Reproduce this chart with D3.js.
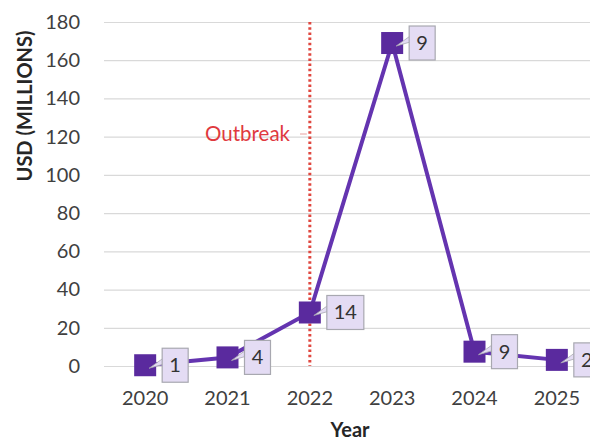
<!DOCTYPE html>
<html>
<head>
<meta charset="utf-8">
<script src="https://cdn.jsdelivr.net/npm/d3@7"></script>
<style>
  html, body { margin: 0; padding: 0; background: #ffffff; }
  svg { display: block; font-family: Lato, "Open Sans", sans-serif; }
</style>
</head>
<body>
<svg id="chart" width="590" height="440"></svg>
<script>
// ---- data ----
const years = ["2020", "2021", "2022", "2023", "2024", "2025"];
const values = [0.4, 4.5, 28, 169, 7.5, 3.2];
const dealLabels = ["1", "4", "14", "9", "9", "2"];
const yTicks = [0, 20, 40, 60, 80, 100, 120, 140, 160, 180];
const outbreakYear = "2022";
const outbreakLabel = "Outbreak";
const yTitle = "USD (MILLIONS)";
const xTitle = "Year";

// ---- layout ----
const svg = d3.select("#chart");
const W = 590, H = 440;
const plot = { left: 104, right: 598, top: 22, bottom: 366 };

const x = d3.scaleBand().domain(years).range([plot.left, plot.right]).padding(0);
const y = d3.scaleLinear().domain([0, 180]).range([plot.bottom, plot.top]);
const cx = d => x(d) + x.bandwidth() / 2;

// gridlines + y tick labels
const yAxis = d3.axisLeft(y).tickValues(yTicks).tickSize(0).tickPadding(24);
const gy = svg.append("g").attr("transform", `translate(${plot.left},0)`).call(yAxis);
gy.select(".domain").remove();
gy.selectAll("text").attr("font-size", 20).attr("fill", "#404040")
  .attr("font-family", "Lato, sans-serif");

svg.append("g").selectAll("line").data(yTicks).join("line")
  .attr("x1", plot.left).attr("x2", W)
  .attr("y1", d => y(d) + 0.5).attr("y2", d => y(d) + 0.5)
  .attr("stroke", "#d9d9d9").attr("stroke-width", 1.2);

// x axis labels
const xAxis = d3.axisBottom(x).tickSize(0).tickPadding(25);
const gx = svg.append("g").attr("transform", `translate(0,${plot.bottom})`).call(xAxis);
gx.select(".domain").remove();
gx.selectAll("text").attr("font-size", 20).attr("fill", "#404040")
  .attr("font-family", "Lato, sans-serif");

// axis titles
svg.append("text")
  .attr("transform", `translate(32,106) rotate(-90)`)
  .attr("text-anchor", "middle")
  .attr("font-size", 20).attr("font-weight", "bold").attr("fill", "#262626")
  .text(yTitle);
svg.append("text")
  .attr("x", 350).attr("y", 437)
  .attr("text-anchor", "middle")
  .attr("font-size", 20).attr("font-weight", "bold").attr("fill", "#262626")
  .text(xTitle);

// outbreak marker line
const ox = cx(outbreakYear);
svg.append("line")
  .attr("x1", ox).attr("x2", ox)
  .attr("y1", y(180)).attr("y2", y(0))
  .attr("stroke", "#e0473f").attr("stroke-width", 3)
  .attr("stroke-dasharray", "2.5,2.7");
svg.append("text")
  .attr("x", 205).attr("y", 141)
  .attr("font-size", 20.5).attr("fill", "#e0393e")
  .text(outbreakLabel);
svg.append("line")
  .attr("x1", 300).attr("x2", ox - 3)
  .attr("y1", 134).attr("y2", 134)
  .attr("stroke", "#e8a0a0").attr("stroke-width", 1);

// series line
const pts = years.map((yr, i) => ({ yr, v: values[i], lab: dealLabels[i] }));
const line = d3.line().x(d => cx(d.yr)).y(d => y(d.v));
svg.append("path").datum(pts)
  .attr("d", line)
  .attr("fill", "none")
  .attr("stroke", "#6434b0").attr("stroke-width", 4)
  .attr("stroke-linejoin", "round");

// markers
const ms = 22;
svg.append("g").selectAll("rect").data(pts).join("rect")
  .attr("x", d => cx(d.yr) - ms / 2).attr("y", d => y(d.v) - ms / 2)
  .attr("width", ms).attr("height", ms)
  .attr("fill", "#5a2a9e");

// callouts
const cg = svg.append("g").selectAll("g").data(pts).join("g");
cg.each(function(d) {
  const g = d3.select(this);
  const px = cx(d.yr), py = y(d.v);
  const bw = d.lab.length > 1 ? 37 : 26, bh = 34;
  const bx = px + 17, by = py - bh / 2;
  // pointer wedge
  g.append("path")
    .attr("d", `M${px + 4},${py + 3} L${bx + 1},${py - 7} L${bx + 1},${py - 1} Z`)
    .attr("fill", "#e4dcf4").attr("stroke", "#a8a8b0").attr("stroke-width", 0.8);
  g.append("rect")
    .attr("x", bx).attr("y", by).attr("width", bw).attr("height", bh)
    .attr("fill", "#e4dcf4").attr("stroke", "#a8a8b0").attr("stroke-width", 1.2);
  g.append("text")
    .attr("x", bx + bw / 2).attr("y", py + 7)
    .attr("text-anchor", "middle")
    .attr("font-size", 20).attr("fill", "#333333")
    .text(d.lab);
});
</script>
</body>
</html>
